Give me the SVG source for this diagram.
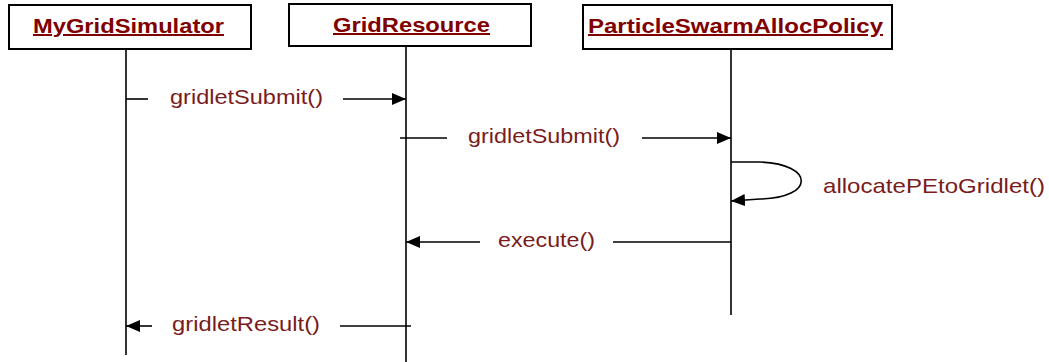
<svg xmlns="http://www.w3.org/2000/svg" width="1049" height="362" viewBox="0 0 1049 362">
<style>
.box{fill:#fff;stroke:#000;stroke-width:2}
.life{stroke:#000;stroke-width:1.6;fill:none}
.msg{stroke:#000;stroke-width:1.6;fill:none}
.hdr{font-family:"Liberation Sans",Arial,sans-serif;font-weight:bold;font-size:20px;fill:#800000;text-decoration:underline}
.lbl{font-family:"Liberation Sans",Arial,sans-serif;font-size:21px;fill:#7a1c1c}
</style>
<defs>
<marker id="ah" viewBox="0 0 14 12" refX="14" refY="6" markerWidth="14" markerHeight="12" markerUnits="userSpaceOnUse" orient="auto">
<path d="M0,0 L14,6 L0,12 Z" fill="#000"/>
</marker>
</defs>
<g id="node-mygridsimulator">
<rect class="box" x="9" y="5" width="242" height="44"/>
<text class="hdr" x="33" y="33" textLength="191" lengthAdjust="spacingAndGlyphs">MyGridSimulator</text>
<line class="life" x1="126" y1="49" x2="126" y2="355"/>
</g>
<g id="node-gridresource">
<rect class="box" x="289" y="4" width="242" height="42"/>
<text class="hdr" x="333" y="32" textLength="157" lengthAdjust="spacingAndGlyphs">GridResource</text>
<line class="life" x1="406" y1="46" x2="406" y2="362"/>
</g>
<g id="node-particleswarmallocpolicy">
<rect class="box" x="583" y="5" width="309" height="44"/>
<text class="hdr" x="588" y="33" textLength="295" lengthAdjust="spacingAndGlyphs">ParticleSwarmAllocPolicy</text>
<line class="life" x1="731" y1="49" x2="731" y2="315"/>
</g>
<g id="connectors">
<line class="msg" x1="126" y1="99" x2="148" y2="99"/>
<line class="msg" x1="343" y1="99" x2="406" y2="99" marker-end="url(#ah)"/>
<text class="lbl" x="170" y="104" textLength="153" lengthAdjust="spacingAndGlyphs">gridletSubmit()</text>
<line class="msg" x1="400" y1="138" x2="447" y2="138"/>
<line class="msg" x1="642" y1="138" x2="731" y2="138" marker-end="url(#ah)"/>
<text class="lbl" x="468" y="143" textLength="152" lengthAdjust="spacingAndGlyphs">gridletSubmit()</text>
<path class="msg" d="M731,162 L760,162 C815,164 815,198 760,199 L731,201" marker-end="url(#ah)"/>
<text class="lbl" x="823" y="193" textLength="222" lengthAdjust="spacingAndGlyphs">allocatePEtoGridlet()</text>
<line class="msg" x1="731" y1="242" x2="613" y2="242"/>
<line class="msg" x1="480" y1="242" x2="406" y2="242" marker-end="url(#ah)"/>
<text class="lbl" x="498" y="247" textLength="97" lengthAdjust="spacingAndGlyphs">execute()</text>
<line class="msg" x1="411" y1="326" x2="340" y2="326"/>
<line class="msg" x1="152" y1="326" x2="126" y2="326" marker-end="url(#ah)"/>
<text class="lbl" x="172" y="331" textLength="148" lengthAdjust="spacingAndGlyphs">gridletResult()</text>
</g>
</svg>
